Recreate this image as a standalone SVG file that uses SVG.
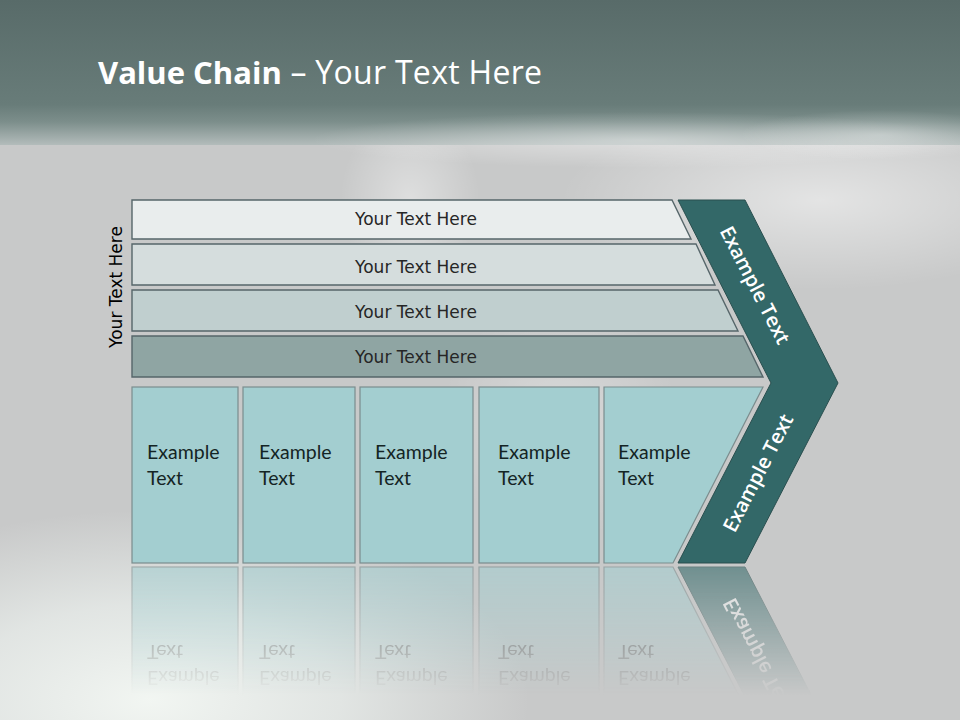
<svg xmlns="http://www.w3.org/2000/svg" width="960" height="720" viewBox="0 0 960 720">
<style>
.bar{stroke:#56666a;stroke-width:1.4}
.box{fill:#a3ced0;stroke:#7b8d8e;stroke-width:1.2}
.chev{fill:#336868;stroke:#2a4f4f;stroke-width:1}
.bt{font-family:"DejaVu Sans",Verdana,sans-serif;font-size:17px;fill:#262626;text-anchor:middle}
.xt{font-family:Lato,"Liberation Sans",sans-serif;font-size:19.5px;fill:#142424}
.ct{font-family:"Open Sans","Liberation Sans",sans-serif;font-size:20px;font-weight:600;fill:#ffffff;text-anchor:middle}
</style>
<defs>
<linearGradient id="hdr" x1="0" y1="0" x2="0" y2="145" gradientUnits="userSpaceOnUse">
<stop offset="0" stop-color="#586b69"/>
<stop offset="0.72" stop-color="#687c79"/>
<stop offset="0.84" stop-color="#7c8e8b"/>
<stop offset="1" stop-color="#b3bcbb"/>
</linearGradient>
<radialGradient id="wg" cx="0.5" cy="0.5" r="0.5">
<stop offset="0" stop-color="#ffffff" stop-opacity="1"/>
<stop offset="1" stop-color="#ffffff" stop-opacity="0"/>
</radialGradient>
<radialGradient id="gg" cx="0.5" cy="0.5" r="0.5">
<stop offset="0" stop-color="#f4f8f4" stop-opacity="1"/>
<stop offset="0.5" stop-color="#eef3f0" stop-opacity="0.7"/>
<stop offset="1" stop-color="#eef3f0" stop-opacity="0"/>
</radialGradient>
<linearGradient id="fade" x1="0" y1="565" x2="0" y2="695" gradientUnits="userSpaceOnUse">
<stop offset="0" stop-color="#ffffff" stop-opacity="0.6"/>
<stop offset="1" stop-color="#ffffff" stop-opacity="0"/>
</linearGradient>
<mask id="reflMask" maskUnits="userSpaceOnUse" x="0" y="565" width="960" height="155">
<rect x="0" y="565" width="960" height="155" fill="url(#fade)"/>
</mask>
</defs>

<!-- background -->
<rect x="0" y="0" width="960" height="720" fill="#c8c9c9"/>
<ellipse cx="150" cy="700" rx="380" ry="190" fill="url(#gg)" opacity="0.95"/>
<ellipse cx="820" cy="200" rx="260" ry="90" fill="url(#wg)" opacity="0.5"/>
<ellipse cx="410" cy="200" rx="70" ry="90" fill="url(#wg)" opacity="0.4"/>
<ellipse cx="560" cy="420" rx="120" ry="120" fill="url(#wg)" opacity="0.3"/>
<rect x="0" y="0" width="960" height="145" fill="url(#hdr)"/>
<ellipse cx="640" cy="140" rx="330" ry="28" fill="url(#wg)" opacity="0.4"/>
<ellipse cx="880" cy="135" rx="140" ry="25" fill="url(#wg)" opacity="0.35"/>

<g id="title">
<text x="98" y="84" font-family="'Open Sans','Liberation Sans',sans-serif" font-size="31" fill="#ffffff"><tspan font-weight="700">Value Chain</tspan><tspan font-size="32" letter-spacing="0.3"> – Your Text Here</tspan></text>
</g>

<g id="side-label">
<text class="bt" transform="translate(122 287) rotate(-90)" x="0" y="0" style="fill:#000">Your Text Here</text>
</g>

<g id="bar1"><polygon class="bar" points="132,200 672,200 691,239 132,239" fill="#e9eded"/><text class="bt" x="416" y="225">Your Text Here</text></g>
<g id="bar2"><polygon class="bar" points="132,244 696,244 715,285 132,285" fill="#d5dddd"/><text class="bt" x="416" y="273">Your Text Here</text></g>
<g id="bar3"><polygon class="bar" points="132,290 718,290 738,331 132,331" fill="#c0cfcf"/><text class="bt" x="416" y="318">Your Text Here</text></g>
<g id="bar4"><polygon class="bar" points="132,336 743,336 763,377 132,377" fill="#8fa5a3"/><text class="bt" x="416" y="363">Your Text Here</text></g>

<g id="lower">
<g id="box1"><rect class="box" x="132" y="387" width="106" height="176"/><text class="xt" x="147" y="459">Example</text><text class="xt" x="147" y="485">Text</text></g>
<g id="box2"><rect class="box" x="243" y="387" width="112" height="176"/><text class="xt" x="259" y="459">Example</text><text class="xt" x="259" y="485">Text</text></g>
<g id="box3"><rect class="box" x="360" y="387" width="113" height="176"/><text class="xt" x="375" y="459">Example</text><text class="xt" x="375" y="485">Text</text></g>
<g id="box4"><rect class="box" x="479" y="387" width="120" height="176"/><text class="xt" x="498" y="459">Example</text><text class="xt" x="498" y="485">Text</text></g>
<g id="box5"><polygon class="box" points="604,387 763,387 673,563 604,563"/><text class="xt" x="618" y="459">Example</text><text class="xt" x="618" y="485">Text</text></g>
<g id="chevron">
<polygon class="chev" points="678,200 745,200 838,383 745,563 678,563 771,383"/>
<text class="ct" transform="translate(755 285) rotate(62.8)" x="0" y="7">Example Text</text>
<text class="ct" transform="translate(758 473) rotate(-62.8)" x="0" y="7">Example Text</text>
</g>
</g>

<g id="reflection" mask="url(#reflMask)">
<g transform="matrix(1 0 0 -1 0 1130)"><use href="#lower"/></g>
</g>

<g id="connectors"/>
</svg>
